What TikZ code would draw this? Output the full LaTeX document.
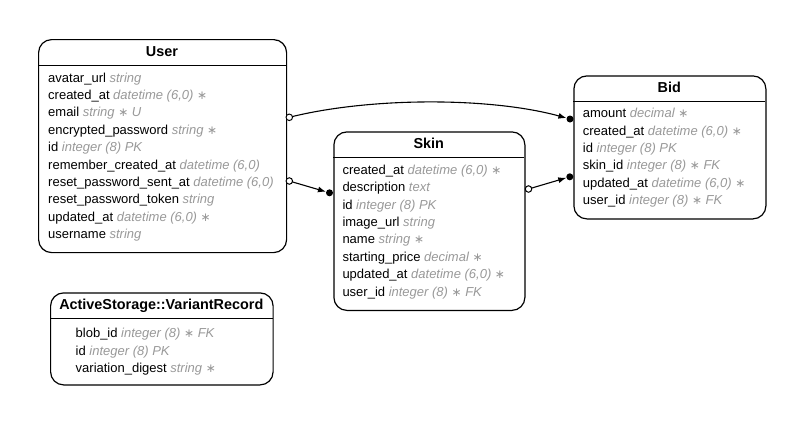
\documentclass[tikz,border=0pt]{standalone}
\usepackage{fontspec}
\setmainfont{Liberation Sans}
\newfontfamily\symf{DejaVu Sans}
\usetikzlibrary{arrows.meta}
\definecolor{tgray}{RGB}{153,153,153}
\newcommand\ty[1]{{\color{tgray}\itshape #1}}
\newcommand\reqstar{{\symf\itshape\fontsize{12}{14}\selectfont ∗}}
\newcommand\tablerows[5]{%
  \foreach \t [count=\i] in {#5} {\node[rowtext] (#1-\i) at (#2,{#3+#4*(\i-1)}) {\t};}}
\tikzset{
  tbl/.style={draw, line width=1.2pt, rounded corners=13pt, anchor=north west, inner sep=0pt},
  sepline/.style={line width=1.2pt},
  tabletitle/.style={anchor=base, inner sep=0pt, font=\bfseries\fontsize{14.4}{16}\selectfont},
  rowtext/.style={anchor=base west, inner sep=0pt, font=\fontsize{13}{15}\selectfont},
  opencirc/.style={circle, draw, fill=white, line width=1pt, minimum size=6.5pt, inner sep=0pt},
  fillcirc/.style={circle, fill=black, minimum size=7pt, inner sep=0pt},
  conn/.style={line width=1.1pt, -{Latex[length=8pt,width=6pt]}},
}
\begin{document}
\begin{tikzpicture}[x=1pt,y=-1pt]
\fill[white] (0,0) rectangle (803,424);
\useasboundingbox (0,0) rectangle (803,424);

% User
\node[tbl, minimum width=248pt, minimum height=213pt] (user) at (38,39) {};
\draw[sepline] (38,65.3) -- (286,65.3);
\node[tabletitle] (user-t) at (162,56) {User};
\tablerows{user}{48}{82}{17.4}{
  {avatar\_url \ty{string}},
  {created\_at \ty{datetime (6,0) \reqstar}},
  {email \ty{string \reqstar{} U}},
  {encrypted\_password \ty{string \reqstar}},
  {id \ty{integer (8) PK}},
  {remember\_created\_at \ty{datetime (6,0)}},
  {reset\_password\_sent\_at \ty{datetime (6,0)}},
  {reset\_password\_token \ty{string}},
  {updated\_at \ty{datetime (6,0) \reqstar}},
  {username \ty{string}}}

% Skin
\node[tbl, minimum width=191pt, minimum height=178.5pt] (skin) at (333.3,131.3) {};
\draw[sepline] (333.3,157.3) -- (524.3,157.3);
\node[tabletitle] (skin-t) at (428.8,148.3) {Skin};
\tablerows{skin}{342.3}{174.2}{17.4}{
  {created\_at \ty{datetime (6,0) \reqstar}},
  {description \ty{text}},
  {id \ty{integer (8) PK}},
  {image\_url \ty{string}},
  {name \ty{string \reqstar}},
  {starting\_price \ty{decimal \reqstar}},
  {updated\_at \ty{datetime (6,0) \reqstar}},
  {user\_id \ty{integer (8) \reqstar{} FK}}}

% Bid
\node[tbl, minimum width=192pt, minimum height=143pt] (bid) at (573.3,75.3) {};
\draw[sepline] (573.3,101.3) -- (765.3,101.3);
\node[tabletitle] (bid-t) at (669.3,92.3) {Bid};
\tablerows{bid}{582.7}{117.7}{17.4}{
  {amount \ty{decimal \reqstar}},
  {created\_at \ty{datetime (6,0) \reqstar}},
  {id \ty{integer (8) PK}},
  {skin\_id \ty{integer (8) \reqstar{} FK}},
  {updated\_at \ty{datetime (6,0) \reqstar}},
  {user\_id \ty{integer (8) \reqstar{} FK}}}

% ActiveStorage::VariantRecord
\node[tbl, minimum width=222.5pt, minimum height=92pt] (vr) at (50,292.3) {};
\draw[sepline] (50,318.3) -- (272.5,318.3);
\node[tabletitle] (vr-t) at (161.3,309.3) {ActiveStorage::VariantRecord};
\tablerows{vr}{75.5}{337.8}{17.3}{
  {blob\_id \ty{integer (8) \reqstar{} FK}},
  {id \ty{integer (8) PK}},
  {variation\_digest \ty{string \reqstar}}}

% connector ends
\node[fillcirc] (d1) at (570,119) {};
\node[fillcirc] (d2) at (329.5,192.8) {};
\node[fillcirc] (d3) at (569.8,176.8) {};
\draw[conn] (289.3,117.3) .. controls (370,97) and (490,97) .. (d1);
\draw[conn] (289.3,181) -- (d2);
\draw[conn] (528.5,189) -- (d3);
\node[opencirc] (c1) at (289.3,117.3) {};
\node[opencirc] (c2) at (289.3,181) {};
\node[opencirc] (c3) at (528.5,189) {};
\end{tikzpicture}
\end{document}
